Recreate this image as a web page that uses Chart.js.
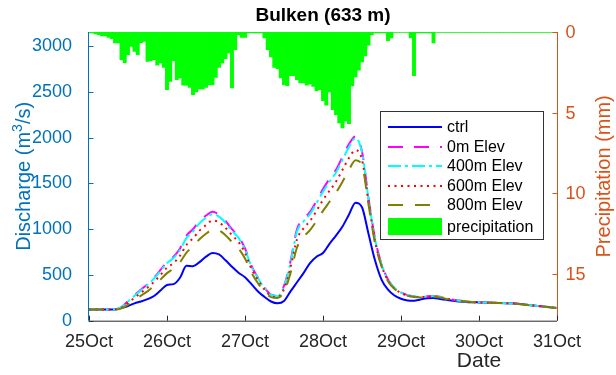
<!DOCTYPE html>
<html>
<head>
<meta charset="utf-8">
<script src="https://cdn.jsdelivr.net/npm/chart.js@4.4.1/dist/chart.umd.min.js"></script>
<style>
  html, body { margin: 0; padding: 0; background: #ffffff; }
  #wrap { width: 616px; height: 375px; }
</style>
</head>
<body>
<div id="wrap"><canvas id="c" width="616" height="375"></canvas></div>
<script>
// Axis labels and ticks
const dayLabels = ['25Oct', '26Oct', '27Oct', '28Oct', '29Oct', '30Oct', '31Oct'];
const dischargeTicks = [0, 500, 1000, 1500, 2000, 2500, 3000];
const precipTicks = [0, 5, 10, 15];

// Simulated discharge (m3/s), one value every 2 hours from 25Oct 00:00
const lineHours = Array.from({ length: 73 }, (_, i) => i * 2);
const ctrl = [122,122,122,122,122,140,160,190,210,235,270,330,390,400,470,600,595,640,700,740,
  725,660,590,525,475,400,320,260,210,190,215,320,420,520,630,700,740,840,930,1030,
  1160,1290,1240,950,660,450,340,275,240,222,218,232,245,248,238,228,218,210,205,202,
  200,198,196,194,192,190,185,178,170,162,155,148,140];
const elev0 = [122,122,122,122,125,150,215,280,340,400,470,555,645,700,790,930,1000,1090,1150,1190,
  1160,1090,1000,920,790,600,470,360,285,272,380,650,1000,1110,1190,1310,1440,1550,1650,1790,
  1930,2015,1850,1340,900,620,450,360,310,280,268,262,268,270,262,245,230,220,212,206,
  202,200,198,196,193,190,185,178,170,162,155,148,140];
const elev400 = [122,122,122,122,125,148,210,272,332,392,460,543,630,685,772,905,975,1065,1125,1165,
  1138,1070,982,905,778,592,465,355,282,268,370,630,975,1085,1165,1285,1410,1520,1620,1760,
  1900,1995,1840,1335,895,618,448,358,308,278,266,260,266,268,260,243,229,219,211,205,
  201,199,197,195,192,189,184,177,169,161,154,147,139];
const elev600 = [122,122,122,122,124,142,195,250,305,360,425,500,580,630,710,830,900,985,1045,1095,
  1075,1015,935,860,740,565,445,340,270,258,345,580,890,1010,1090,1200,1320,1420,1520,1650,
  1780,1865,1760,1300,870,605,440,352,303,274,262,257,262,264,257,240,227,217,210,204,
  200,198,196,194,191,188,183,176,168,160,153,146,138];
const elev800 = [122,122,122,122,123,135,175,225,275,320,380,450,520,570,640,745,810,890,950,995,
  985,935,860,790,680,525,410,315,258,248,315,520,800,915,990,1090,1200,1300,1400,1520,
  1650,1755,1700,1270,850,595,432,347,300,271,259,254,259,261,254,238,225,216,209,203,
  199,197,195,193,190,187,182,175,167,159,152,145,137];

// Hourly precipitation (mm)
const precipHours = Array.from({ length: 145 }, (_, i) => i);
const precip = [0.06,0.06,0.12,0.17,0.25,0.25,0.33,0.42,0.68,0.68,
  1.72,1.90,1.41,0.89,1.20,1.41,0.66,0.58,1.82,1.78,
  1.72,2.06,1.92,2.19,3.58,3.06,1.78,2.96,2.85,3.30,
  3.30,3.43,3.89,3.72,3.53,3.53,3.43,3.27,3.27,2.81,
  2.19,1.92,1.66,1.30,3.47,1.10,0.17,0.33,0.33,0.06,
  0.06,0.06,0.06,0.06,0.37,1.10,1.55,2.19,2.28,2.85,
  3.27,3.33,2.71,2.71,2.96,3.16,3.16,3.30,3.22,3.37,
  3.64,3.58,4.26,4.54,3.72,4.82,5.13,5.64,5.95,5.52,
  5.69,3.35,2.79,2.36,1.86,1.49,0.81,0.17,0.06,0.06,
  0.06,0.06,0.53,0.37,0.03,0.03,0.03,0.03,0.03,0.37,
  2.71,0.06,0.06,0.06,0.06,0.06,0.68,0.02,0.02,0.02,
  0.02,0.02,0.02,0.02,0.02,0.02,0.02,0.02,0.02,0.02,
  0.02,0.02,0.02,0.02,0.02,0.02,0.02,0.02,0.02,0.02,
  0.02,0.02,0.02,0.02,0.02,0.02,0.02,0.02,0.02,0.02,
  0.02,0.02,0.02,0.02,0.02];

const FONT = "'Liberation Sans', Arial, Helvetica, sans-serif";
const BLUE_AX = '#0072BD';
const ORANGE_AX = '#D95319';
const DARK = '#262626';

const toXY = (xs, ys) => ys.map((v, i) => ({ x: xs[i], y: v }));

// later series are painted over earlier ones
function lineSet(label, values, color, dash, order) {
  return {
    type: 'line', label, data: toXY(lineHours, values), yAxisID: 'y',
    borderColor: color, borderWidth: 2, borderDash: dash, borderCapStyle: 'butt',
    pointRadius: 0, fill: false, cubicInterpolationMode: 'monotone', order
  };
}

// Axis lines, inward tick marks, titles, right tick labels and the boxed legend
const decorations = {
  id: 'decorations',
  afterDraw(chart) {
    const { ctx, chartArea: a, scales } = chart;
    const xs = scales.x, ys = scales.y, y2 = scales.y2;
    ctx.save();
    ctx.lineWidth = 1;

    // left axis
    ctx.strokeStyle = BLUE_AX;
    ctx.beginPath();
    ctx.moveTo(a.left - 0.5, a.top); ctx.lineTo(a.left - 0.5, a.bottom);
    dischargeTicks.forEach(v => {
      const p = Math.round(ys.getPixelForValue(v)) + 0.5;
      ctx.moveTo(a.left - 0.5, p); ctx.lineTo(a.left + 4.5, p);
    });
    ctx.stroke();

    // right axis
    ctx.strokeStyle = ORANGE_AX;
    ctx.beginPath();
    ctx.moveTo(a.right + 0.5, a.top); ctx.lineTo(a.right + 0.5, a.bottom);
    precipTicks.forEach(v => {
      const p = Math.round(y2.getPixelForValue(v)) + 0.5;
      ctx.moveTo(a.right + 0.5, p); ctx.lineTo(a.right - 4.5, p);
    });
    ctx.stroke();
    ctx.fillStyle = ORANGE_AX;
    ctx.font = '18px ' + FONT;
    ctx.textAlign = 'left';
    ctx.textBaseline = 'middle';
    precipTicks.forEach(v => ctx.fillText(String(v), a.right + 8.5, y2.getPixelForValue(v) + 1));

    // bottom axis
    ctx.strokeStyle = DARK;
    ctx.beginPath();
    ctx.moveTo(a.left, a.bottom + 0.5); ctx.lineTo(a.right, a.bottom + 0.5);
    dayLabels.forEach((_, i) => {
      const p = Math.round(xs.getPixelForValue(i * 24)) + 0.5;
      ctx.moveTo(p, a.bottom); ctx.lineTo(p, a.bottom - 5);
    });
    ctx.stroke();

    // title
    ctx.fillStyle = '#000000';
    ctx.font = 'bold 19px ' + FONT;
    ctx.textAlign = 'center';
    ctx.textBaseline = 'middle';
    ctx.fillText('Bulken (633 m)', (a.left + a.right) / 2, 16);

    // x axis title
    ctx.fillStyle = DARK;
    ctx.font = '21px ' + FONT;
    ctx.textBaseline = 'alphabetic';
    ctx.fillText('Date', xs.getPixelForValue(120), 366.5);

    // left axis title with superscript
    ctx.save();
    ctx.translate(29.5, (a.top + a.bottom) / 2);
    ctx.rotate(-Math.PI / 2);
    ctx.fillStyle = BLUE_AX;
    const mainF = '20px ' + FONT, supF = '14px ' + FONT;
    ctx.font = mainF; const w1 = ctx.measureText('Discharge (m').width;
    ctx.font = supF; const w2 = ctx.measureText('3').width;
    ctx.font = mainF; const w3 = ctx.measureText('/s)').width;
    let sx = -(w1 + w2 + w3) / 2;
    ctx.textAlign = 'left';
    ctx.fillText('Discharge (m', sx, 0); sx += w1;
    ctx.font = supF; ctx.fillText('3', sx, -8); sx += w2;
    ctx.font = mainF; ctx.fillText('/s)', sx, 0);
    ctx.restore();

    // right axis title
    ctx.save();
    ctx.translate(609.5, (a.top + a.bottom) / 2);
    ctx.rotate(-Math.PI / 2);
    ctx.fillStyle = ORANGE_AX;
    ctx.font = '20px ' + FONT;
    ctx.textAlign = 'center';
    ctx.fillText('Precipitation (mm)', 0, 0);
    ctx.restore();

    // legend box
    const bx = a.right - 176.5, by = a.top + 79.5, bw = 163, bh = 128;
    ctx.fillStyle = '#ffffff';
    ctx.fillRect(bx, by, bw, bh);
    ctx.strokeStyle = '#333333';
    ctx.lineWidth = 1;
    ctx.strokeRect(bx, by, bw, bh);
    const rows = [15.5, 35, 54.5, 74, 93.5, 115];
    ctx.font = '16px ' + FONT;
    ctx.textAlign = 'left';
    ctx.textBaseline = 'middle';
    chart.data.datasets.forEach((ds, i) => {
      const cy = by + rows[i];
      if (ds.type === 'line') {
        ctx.save();
        ctx.strokeStyle = ds.borderColor;
        ctx.lineWidth = ds.borderWidth;
        ctx.setLineDash(ds.borderDash || []);
        ctx.beginPath();
        ctx.moveTo(bx + 7.5, Math.round(cy)); ctx.lineTo(bx + 61.5, Math.round(cy));
        ctx.stroke();
        ctx.restore();
      } else {
        ctx.fillStyle = ds.backgroundColor;
        ctx.fillRect(bx + 7.5, cy - 8.5, 54, 17);
      }
      ctx.fillStyle = '#000000';
      ctx.fillText(ds.label, bx + 66.5, cy + 1);
    });
    ctx.restore();
  }
};

new Chart(document.getElementById('c'), {
  type: 'line',
  data: {
    datasets: [
      lineSet('ctrl', ctrl, '#0000ff', [], 5),
      lineSet('0m Elev', elev0, '#ff00ff', [15, 11], 4),
      lineSet('400m Elev', elev400, '#00ffff', [13, 4, 3, 4], 3),
      lineSet('600m Elev', elev600, '#ff0000', [2, 4.5], 2),
      lineSet('800m Elev', elev800, '#808000', [15, 12], 1),
      {
        type: 'bar', label: 'precipitation', data: toXY(precipHours, precip), yAxisID: 'y2',
        backgroundColor: '#00ff00', borderWidth: 0, barPercentage: 1, categoryPercentage: 1,
        grouped: false, order: 6
      }
    ]
  },
  options: {
    responsive: false,
    animation: false,
    events: [],
    layout: { padding: { top: 32, left: 0, right: 0, bottom: 0 } },
    plugins: { legend: { display: false }, tooltip: { enabled: false }, title: { display: false } },
    scales: {
      x: {
        type: 'linear', min: 0, max: 144, offset: false,
        grid: { display: false }, border: { display: false },
        afterBuildTicks: s => { s.ticks = dayLabels.map((_, i) => ({ value: i * 24 })); },
        ticks: {
          autoSkip: false, maxRotation: 0, padding: 3, color: DARK,
          font: { family: FONT, size: 18 },
          callback: (v) => dayLabels[Math.round(v / 24)]
        },
        afterFit: s => { s.height = 54.3; }
      },
      y: {
        position: 'left', min: 0, max: 3156,
        grid: { display: false }, border: { display: false },
        afterBuildTicks: s => { s.ticks = dischargeTicks.map(v => ({ value: v })); },
        ticks: {
          padding: 9, color: BLUE_AX, font: { family: FONT, size: 18 },
          callback: (v) => String(v)
        },
        afterFit: s => { s.width = 89; }
      },
      y2: {
        position: 'right', reverse: true, min: 0, max: 17.9,
        grid: { display: false }, border: { display: false },
        afterBuildTicks: s => { s.ticks = precipTicks.map(v => ({ value: v })); },
        ticks: { display: false },
        afterFit: s => { s.width = 59; }
      }
    }
  },
  plugins: [decorations]
});
</script>
</body>
</html>
